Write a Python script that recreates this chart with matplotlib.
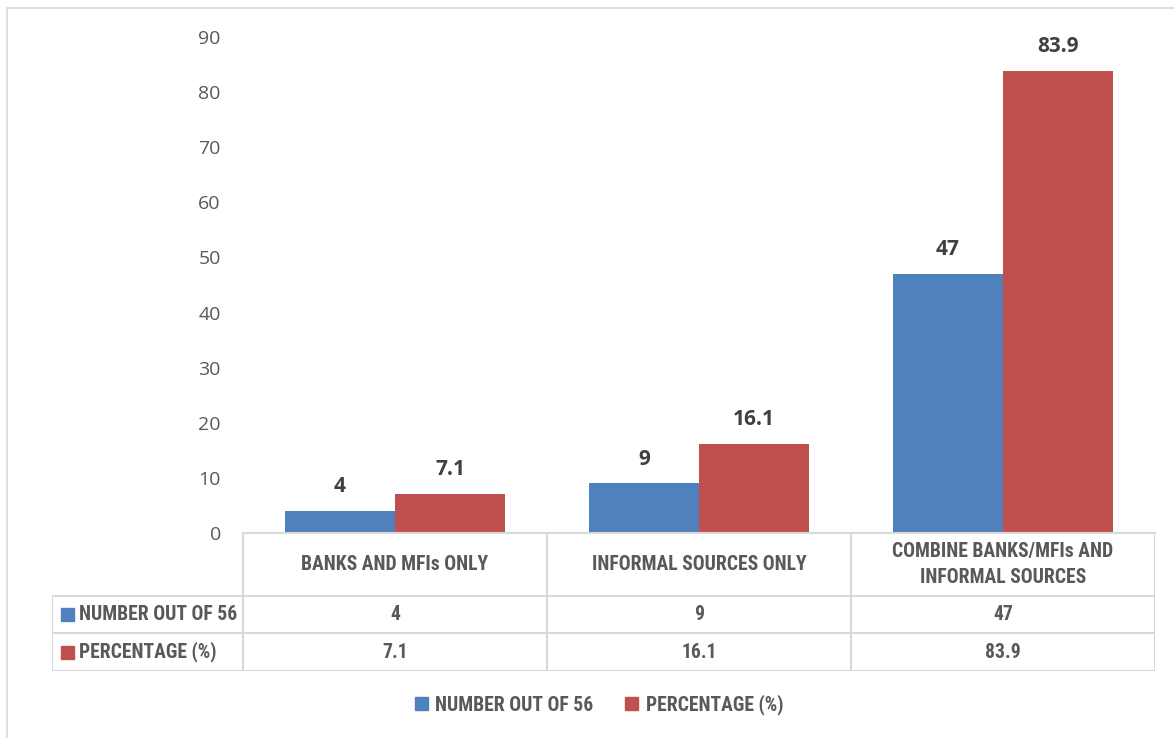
import matplotlib
matplotlib.use("Agg")
import matplotlib.pyplot as plt
from matplotlib import font_manager as fm
from matplotlib.patches import Rectangle
import numpy as np

# --- data ---
categories = ["BANKS AND MFIs ONLY", "INFORMAL SOURCES ONLY",
              "COMBINE BANKS/MFIs AND\nINFORMAL SOURCES"]
series_names = ["NUMBER OUT OF 56", "PERCENTAGE (%)"]
number_out_of_56 = [4, 9, 47]
percentage = [7.1, 16.1, 83.9]
yticks = [0, 10, 20, 30, 40, 50, 60, 70, 80, 90]

BLUE = "#4F81BD"
RED = "#C0504D"
GRID = "#D9D9D9"
TXT = "#595959"

# pick the narrowest installed family for the table text (Agency FB look)
names = {f.name for f in fm.fontManager.ttflist}
prefs = ["Noto Sans ExtraCondensed", "Noto Sans Condensed", "Roboto Condensed",
         "Liberation Sans Narrow", "DejaVu Sans Condensed",
         "Noto Sans SemiCondensed"]
cond = next((n for n in prefs if n in names), None)
if cond is None:
    extra = sorted(n for n in names if "Condensed" in n or "Narrow" in n)
    cond = extra[0] if extra else "DejaVu Sans"
COND = [cond, "DejaVu Sans"]

W, H = 1174, 738
fig = plt.figure(figsize=(W / 100, H / 100), dpi=100)
renderer = fig.canvas.get_renderer()

# size the table font so a row label is as wide as in the original
probe = fig.text(0, 0, series_names[0], family=COND, fontweight="bold",
                 fontsize=20)
TSIZE = 20 * 158 / probe.get_window_extent(renderer).width
probe.remove()


def fbox(x0, y0, x1, y1):
    # pixel box (top-left origin) -> figure rect
    return [x0 / W, 1 - y1 / H, (x1 - x0) / W, (y1 - y0) / H]


# outer chart border
fig.patches.append(Rectangle((7 / W, -0.1), 1.2, 1 - 8 / H + 0.1,
                             transform=fig.transFigure, fill=False,
                             edgecolor=GRID, lw=1.2))

# --- bar axes ---
ax = fig.add_axes(fbox(243, 37, 1155, 533))
x = np.arange(len(categories))
w = 0.363
bars_a = ax.bar(x - w / 2, number_out_of_56, w, color=BLUE)
bars_b = ax.bar(x + w / 2, percentage, w, color=RED)
ax.set_xlim(-0.5, len(categories) - 0.5)
ax.set_ylim(0, 90)
ax.set_yticks(yticks)
ax.set_yticklabels([str(t) for t in yticks], fontsize=14, color=TXT,
                   family="Open Sans")
ax.tick_params(axis="y", length=0, pad=16)
ax.set_xticks([])
for s in ("top", "right", "left"):
    ax.spines[s].set_visible(False)
ax.spines["bottom"].set_color(GRID)
ax.spines["bottom"].set_linewidth(1.5)

for bars, vals in ((bars_a, number_out_of_56), (bars_b, percentage)):
    for b, v in zip(bars, vals):
        ax.annotate(f"{v:g}", (b.get_x() + b.get_width() / 2, v),
                    xytext=(0, 10), textcoords="offset points",
                    ha="center", va="bottom", fontsize=15,
                    fontweight="bold", color="#404040", family="Open Sans")

# --- data table ---
col_w = (1155 - 243) / len(categories)
lw_units = (243 - 52) / col_w
tax = fig.add_axes(fbox(52, 533, 1155, 671))
left = -0.5 - lw_units
right = len(categories) - 0.5
tax.set_xlim(left, right)
tax.set_ylim(138, 0)
tax.axis("off")
row_y = [0, 63, 100, 138]
kw = dict(color=GRID, lw=1.5, solid_capstyle="butt")
for yy in row_y[1:]:
    tax.plot([left, right], [yy, yy], **kw)
tax.plot([left, left], [row_y[1], row_y[3]], **kw)
for i in range(len(categories) + 1):
    tax.plot([i - 0.5, i - 0.5], [0, row_y[3]], **kw)

tfont = dict(family=COND, fontweight="bold", color=TXT, fontsize=TSIZE,
             ha="center", va="center")
for i, c in enumerate(categories):
    tax.text(i, row_y[1] / 2, c, linespacing=1.45, **tfont)
rows = [number_out_of_56, percentage]
for r, (name, vals, col) in enumerate(zip(series_names, rows, (BLUE, RED))):
    yc = (row_y[r + 1] + row_y[r + 2]) / 2
    for i, v in enumerate(vals):
        tax.text(i, yc, f"{v:g}", **tfont)
    x0 = left + 9 / col_w
    tax.add_patch(Rectangle((x0, yc - 6.5), 13 / col_w, 13, color=col,
                            clip_on=False))
    tax.text(x0 + 18 / col_w, yc, name, family=COND, fontweight="bold",
             color=TXT, fontsize=TSIZE, ha="left", va="center")

# --- legend ---
handles = [Rectangle((0, 0), 1, 1, color=BLUE),
           Rectangle((0, 0), 1, 1, color=RED)]
fig.legend(handles, series_names, loc="center",
           bbox_to_anchor=(599 / W, 1 - 705 / H), ncol=2, frameon=False,
           handlelength=0.65, handleheight=0.65, handletextpad=0.4,
           columnspacing=1.6,
           prop=dict(family=COND, weight="bold", size=TSIZE),
           labelcolor=TXT)

fig.savefig("out.png", dpi=100)
